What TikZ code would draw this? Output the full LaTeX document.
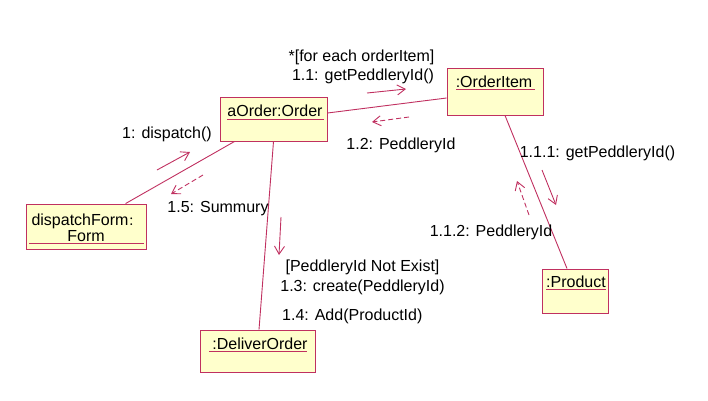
\documentclass[tikz,border=0pt]{standalone}
\usepackage{fontspec}
\setmainfont{Liberation Sans}
\newfontfamily\cjk{Noto Sans CJK SC}
\usepackage{tikz}
\usetikzlibrary{%
  arrows.meta,%
  positioning%
}
\definecolor{umlred}{RGB}{192,48,96}
\definecolor{umlfill}{RGB}{255,255,204}
\tikzset{
  obj/.style={draw=umlred, fill=umlfill, line width=0.9pt, inner sep=0pt},
  objname/.style={inner sep=0pt, anchor=base},
  link/.style={draw=umlred, line width=0.9pt},
  msg/.style={umlred, line width=0.9pt, -{Straight Barb[length=8pt,width=10pt]}},
  reply/.style={msg, dash pattern=on 5pt off 3pt},
  lbl/.style={inner sep=0pt, anchor=base}
}

\begin{document}
\begin{tikzpicture}[x=1pt, y=-1pt, font=\fontsize{16}{19}\selectfont]
\useasboundingbox (0,0) rectangle (708,400);

% objects
\node[obj, minimum width=107pt, minimum height=44pt] (order) at (273.5,119) {};
\node[obj, minimum width=96pt, minimum height=47pt] (item) at (495,91.5) {};
\node[obj, minimum width=120pt, minimum height=45pt] (form) at (86,226.5) {};
\node[obj, minimum width=115pt, minimum height=42pt] (deliver) at (257.5,351) {};
\node[obj, minimum width=66pt, minimum height=44pt] (product) at (575,291) {};

\node[objname] (order-n) at (275,116.5) {aOrder:Order};
\node[objname] (item-n) at (494,87.5) {:OrderItem};
\node[objname] (form-n) at (86,225) {dispatchForm{\cjk\fontsize{12}{14}\selectfont ：}};
\node[objname] (form-m) at (86,241) {Form};
\node[objname] (deliver-n) at (260,349) {:DeliverOrder};
\node[objname] (product-n) at (576,287.5) {:Product};

\draw[link] (227,119) -- (324,119);
\draw[link] (456,89) -- (535,89);
\draw[link] (29,243.5) -- (144,243.5);
\draw[link] (209,351) -- (307,351);
\draw[link] (546,289.5) -- (606,289.5);

% links
\draw[link]
	([yshift=6pt]order.east) -- ([yshift=-6.5pt]item.west)
	([xshift=15pt]order.south west) -- ([xshift=100pt]form.north west)
	(order.south) -- ([xshift=1.5pt]deliver.north)
	([xshift=10pt]item.south) -- ([xshift=-8pt]product.north)
;

% messages
\coordinate (disp-a) at (157,170); \coordinate (disp-b) at (190,152);
\coordinate (summ-a) at (203,175); \coordinate (summ-b) at (171,194);
\coordinate (get-a) at (367,93);   \coordinate (get-b) at (406,89);
\coordinate (id-a) at (409,117);   \coordinate (id-b) at (372,122);
\coordinate (pget-a) at (542,170); \coordinate (pget-b) at (556,205);
\coordinate (pid-a) at (529,215);  \coordinate (pid-b) at (517,181);
\coordinate (cre-a) at (281,217);  \coordinate (cre-b) at (279,255);

\draw[msg] (disp-a) -- (disp-b);
\draw[reply] (summ-a) -- (summ-b);
\draw[msg] (get-a) -- (get-b);
\draw[reply] (id-a) -- (id-b);
\draw[msg] (pget-a) -- (pget-b);
\draw[reply] (pid-a) -- (pid-b);
\draw[msg] (cre-a) -- (cre-b);

\node[lbl] (disp-l) at (167,138) {1: dispatch()};
\node[lbl] (summ-l) at (218,212.3) {1.5: Summury};
\node[lbl] (get-g) at (361.5,61) {*[for each orderItem]};
\node[lbl] (get-l) at (363,80) {1.1: getPeddleryId()};
\node[lbl] (id-l) at (401,149.3) {1.2: PeddleryId};
\node[lbl] (pget-l) at (597.5,157.3) {1.1.1: getPeddleryId()};
\node[lbl] (pid-l) at (491,236.7) {1.1.2: PeddleryId};
\node[lbl] (cre-g) at (362.5,271.7) {[PeddleryId Not Exist]};
\node[lbl] (cre-l) at (362.5,291.7) {1.3: create(PeddleryId)};
\node[lbl, anchor=base west] (add-l) at (282,320) {1.4: Add(ProductId)};
\end{tikzpicture}
\end{document}
